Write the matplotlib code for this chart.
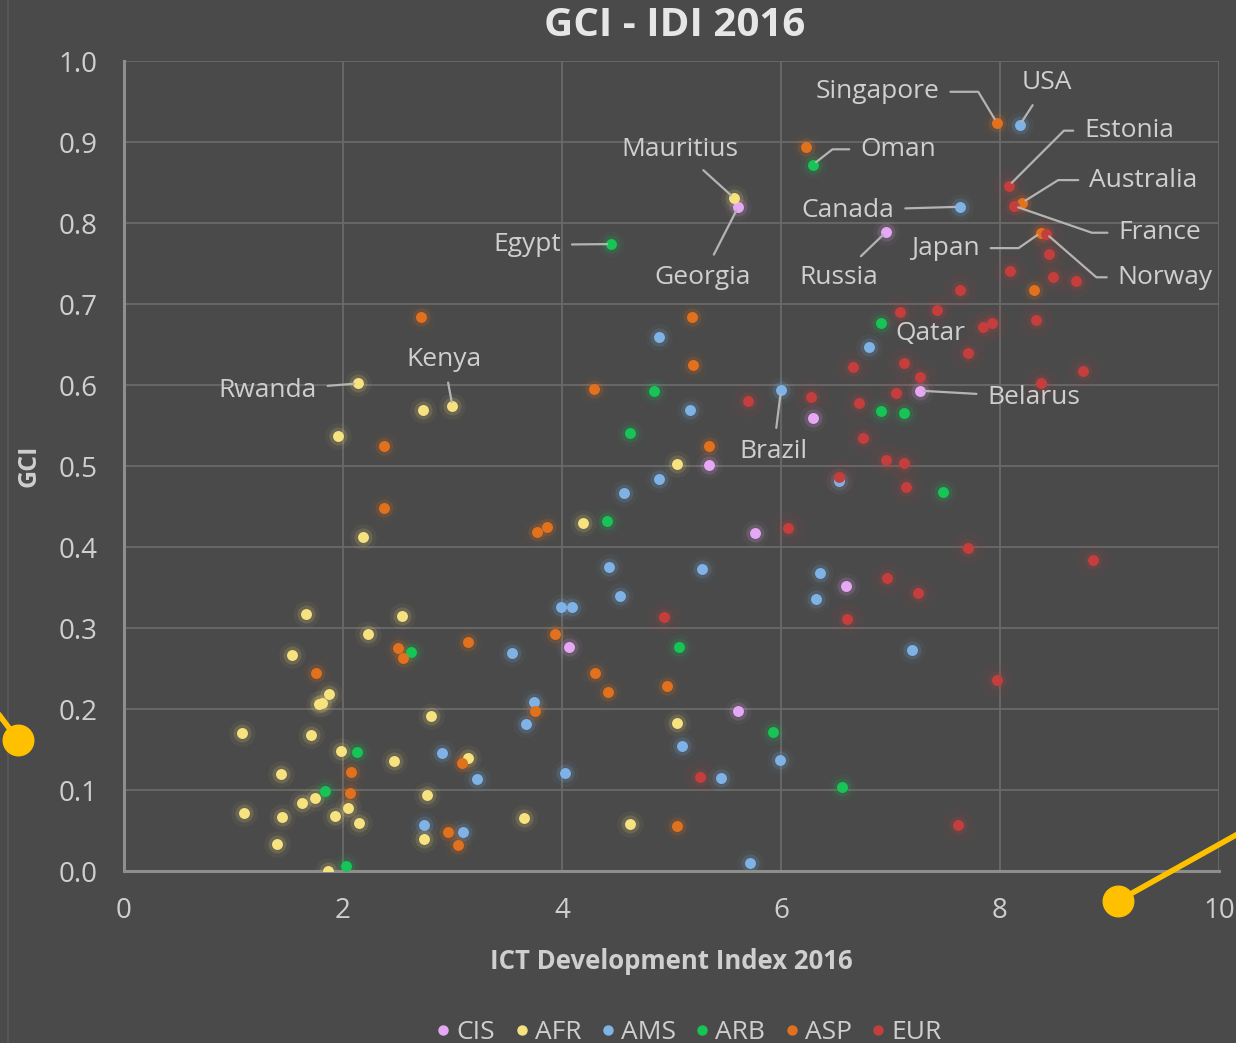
import matplotlib.pyplot as plt
from matplotlib.lines import Line2D

plt.rcParams['font.family'] = ['Open Sans', 'DejaVu Sans']

# --- data (IDI 2016, GCI) per region
groups = ['CIS', 'AFR', 'AMS', 'ARB', 'ASP', 'EUR']

cis_x = [5.61, 6.96, 5.34, 6.29, 7.27, 5.76, 6.59, 4.06, 5.61]
cis_y = [0.820, 0.789, 0.501, 0.559, 0.593, 0.417, 0.352, 0.277, 0.197]

afr_x = [5.57, 2.14, 2.73, 3.00, 1.95, 2.18, 4.19, 5.05, 1.66, 2.54, 2.23, 1.53,
         1.87, 1.78, 1.81, 2.80, 1.08, 1.71, 1.98, 2.47, 3.14, 1.43, 2.77, 1.63,
         1.74, 2.05, 1.93, 2.15, 1.10, 1.44, 3.65, 2.74, 1.40, 1.86, 5.05, 4.62]
afr_y = [0.831, 0.602, 0.569, 0.574, 0.537, 0.412, 0.430, 0.502, 0.317, 0.315, 0.292, 0.267,
         0.218, 0.206, 0.208, 0.191, 0.170, 0.168, 0.148, 0.136, 0.140, 0.120, 0.094, 0.084,
         0.090, 0.078, 0.068, 0.059, 0.071, 0.067, 0.065, 0.040, 0.033, 0.000, 0.183, 0.058]

ams_x = [8.18, 7.63, 4.89, 6.00, 5.17, 6.80, 4.89, 4.57, 6.53, 4.43, 5.28, 6.36,
         6.32, 3.99, 4.09, 4.53, 3.54, 7.20, 3.74, 3.67, 2.90, 3.22, 5.10, 5.99,
         4.03, 5.45, 2.74, 3.10, 5.72]
ams_y = [0.921, 0.820, 0.659, 0.594, 0.569, 0.647, 0.484, 0.467, 0.481, 0.375, 0.373, 0.368,
         0.336, 0.326, 0.326, 0.339, 0.269, 0.273, 0.209, 0.181, 0.146, 0.114, 0.154, 0.137,
         0.121, 0.115, 0.057, 0.048, 0.010]

arb_x = [6.29, 4.45, 6.91, 4.84, 4.62, 6.91, 7.12, 7.48, 4.41, 2.62, 5.07, 5.93,
         2.13, 1.84, 6.56, 2.03]
arb_y = [0.872, 0.774, 0.677, 0.592, 0.541, 0.568, 0.566, 0.468, 0.432, 0.271, 0.277, 0.172,
         0.147, 0.099, 0.104, 0.006]

asp_x = [7.97, 6.23, 8.20, 8.37, 8.31, 2.71, 5.19, 5.20, 4.29, 5.34, 2.37, 2.37,
         3.77, 3.86, 3.94, 4.30, 4.42, 4.96, 3.75, 2.50, 2.55, 3.14, 1.75, 3.09,
         2.07, 2.06, 2.96, 3.05, 5.05]
asp_y = [0.924, 0.894, 0.825, 0.788, 0.717, 0.684, 0.684, 0.625, 0.595, 0.525, 0.525, 0.448,
         0.419, 0.425, 0.292, 0.245, 0.221, 0.228, 0.198, 0.275, 0.263, 0.283, 0.245, 0.133,
         0.122, 0.096, 0.048, 0.032, 0.055]

eur_x = [8.08, 8.13, 8.42, 8.45, 8.09, 8.48, 8.69, 7.63, 7.09, 7.42, 7.84, 7.93,
         8.33, 7.71, 6.66, 7.12, 8.76, 7.27, 8.37, 7.05, 6.27, 5.70, 6.71, 6.75,
         6.96, 7.12, 6.53, 7.14, 6.06, 7.71, 8.85, 6.97, 7.25, 6.60, 4.93, 7.97,
         5.26, 7.62]
eur_y = [0.846, 0.821, 0.787, 0.762, 0.741, 0.733, 0.728, 0.717, 0.690, 0.692, 0.672, 0.676,
         0.680, 0.640, 0.622, 0.627, 0.617, 0.610, 0.602, 0.590, 0.585, 0.580, 0.578, 0.535,
         0.507, 0.504, 0.487, 0.474, 0.423, 0.399, 0.384, 0.362, 0.343, 0.311, 0.314, 0.236,
         0.116, 0.057]

colors = {'CIS': '#e6a8f4', 'AFR': '#f6e27e', 'AMS': '#7fb3e6',
          'ARB': '#17c456', 'ASP': '#e2711d', 'EUR': '#c43e3e'}
series = {'CIS': (cis_x, cis_y), 'AFR': (afr_x, afr_y), 'AMS': (ams_x, ams_y),
          'ARB': (arb_x, arb_y), 'ASP': (asp_x, asp_y), 'EUR': (eur_x, eur_y)}

# labelled countries: (name, group, index in group, text x, text y, elbow angle or None)
labels = [
    ('Singapore', 'ASP', 0, 6.88, 0.962, 121),
    ('USA', 'AMS', 0, 8.43, 0.973, None),
    ('Estonia', 'EUR', 0, 9.18, 0.914, 45),
    ('Australia', 'ASP', 2, 9.31, 0.853, 32),
    ('France', 'EUR', 1, 9.46, 0.788, -19),
    ('Norway', 'EUR', 2, 9.51, 0.733, -41),
    ('Japan', 'ASP', 3, 7.50, 0.769, 35),
    ('Canada', 'AMS', 1, 6.61, 0.816, None),
    ('Russia', 'CIS', 1, 6.53, 0.733, None),
    ('Oman', 'ARB', 0, 7.07, 0.891, 38),
    ('Mauritius', 'AFR', 0, 5.08, 0.891, None),
    ('Georgia', 'CIS', 0, 5.28, 0.733, None),
    ('Egypt', 'ARB', 1, 3.68, 0.773, None),
    ('Qatar', 'ARB', 2, 7.36, 0.664, None),
    ('Belarus', 'CIS', 4, 8.31, 0.585, None),
    ('Brazil', 'AMS', 3, 5.93, 0.518, None),
    ('Kenya', 'AFR', 3, 2.92, 0.632, None),
    ('Rwanda', 'AFR', 1, 1.31, 0.593, None),
]

bg = '#4a4a4a'
txt = '#cfcfcf'

fig = plt.figure(figsize=(12.36, 10.43), dpi=100, facecolor=bg)
ax = fig.add_axes([0.1003, 0.1649, 0.8860, 0.7766])
ax.set_facecolor(bg)

# soft glow under every dot, then the dot itself
for g in groups:
    xs, ys = series[g]
    glow = 0.05 if g != 'EUR' else 0.06
    ax.scatter(xs, ys, s=560 if g == 'EUR' else 360, color=colors[g], alpha=glow, lw=0, zorder=2)
    ax.scatter(xs, ys, s=170, color=colors[g], alpha=0.15, lw=0, zorder=2)
    ax.scatter(xs, ys, s=62, color=colors[g], lw=0, zorder=3, label=g)

for name, g, i, tx, ty, ang in labels:
    px = series[g][0][i]
    py = series[g][1][i]
    if name == 'Qatar':
        ax.text(tx, ty, name, ha='center', va='center', color=txt, fontsize=19, zorder=5)
        continue
    if ang is None:
        conn = 'arc3,rad=0'
    else:
        conn = 'angle,angleA=0,angleB=%d,rad=0' % ang
    ax.annotate(name, xy=(px, py), xytext=(tx, ty), ha='center', va='center',
                color=txt, fontsize=19, zorder=5,
                arrowprops=dict(arrowstyle='-', color='#b4b4b4', lw=1.6,
                                shrinkA=6, shrinkB=3, connectionstyle=conn))

ax.set_xlim(0, 10)
ax.set_ylim(0, 1.0)
ax.set_xticks([0, 2, 4, 6, 8, 10])
ax.set_yticks([i / 10 for i in range(11)])
ax.set_yticklabels(['%.1f' % (i / 10) for i in range(11)])
ax.grid(True, color='#6a6a6a', lw=1.3)
ax.set_axisbelow(True)
ax.tick_params(length=0, pad=19, labelsize=20, labelcolor=txt)
for s in ['top', 'right']:
    ax.spines[s].set_visible(False)
for s in ['left', 'bottom']:
    ax.spines[s].set_color('#8e8e8e')
    ax.spines[s].set_linewidth(2.2)

ax.set_xlabel('ICT Development Index 2016', fontsize=18.5, fontweight='bold', color=txt, labelpad=16)
ax.set_ylabel('GCI', fontsize=18, fontweight='bold', color=txt)
ax.yaxis.set_label_coords(-0.075, 0.5)

fig.text(0.546, 1 - 25 / 1043, 'GCI - IDI 2016', ha='center', va='center',
         fontsize=29, fontweight='bold', color='#e6e6e6')

handles = [Line2D([], [], ls='none', marker='o', ms=6.5, color=colors[g]) for g in groups]
leg = fig.legend(handles, groups, loc='center', bbox_to_anchor=(0.556, 0.010), ncol=6,
                 frameon=False, fontsize=19, handletextpad=0.1, columnspacing=0.6,
                 handlelength=0.8, labelcolor=txt)

# thin frame line on the left edge and the yellow pointer marks on top of the picture
fig.add_artist(Line2D([0.0068, 0.0068], [0, 1], color='#595959', lw=1.2, transform=fig.transFigure))
fig.add_artist(Line2D([0.0, 0.0146], [1 - 716 / 1043, 1 - 740 / 1043], color='#ffc000', lw=4,
                      transform=fig.transFigure))
fig.add_artist(Line2D([0.0146], [1 - 740 / 1043], color='#ffc000', marker='o', ms=22,
                      transform=fig.transFigure))
fig.add_artist(Line2D([0.9045, 1.0], [1 - 901 / 1043, 1 - 835 / 1043], color='#ffc000', lw=4,
                      transform=fig.transFigure))
fig.add_artist(Line2D([0.9045], [1 - 901 / 1043], color='#ffc000', marker='o', ms=22,
                      transform=fig.transFigure))

fig.savefig('out.png', dpi=100, facecolor=bg)
